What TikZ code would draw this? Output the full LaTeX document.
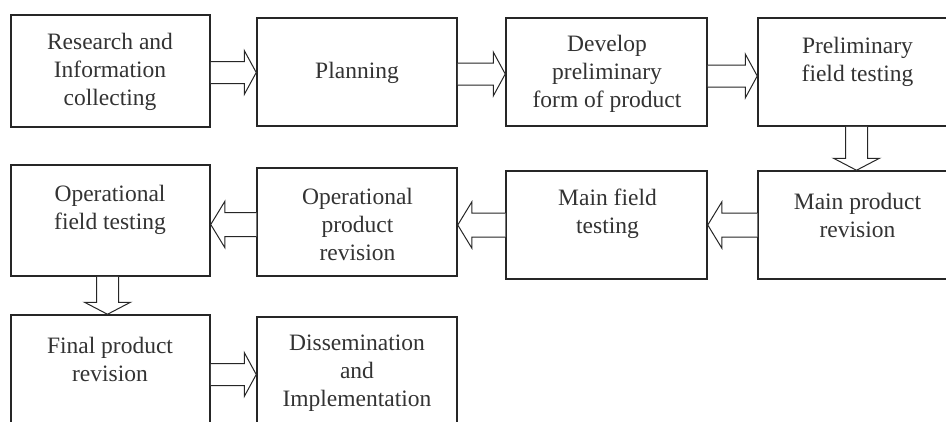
\documentclass[tikz,border=0pt]{standalone}
\usepackage{fontspec}
\setmainfont{Liberation Serif}
\usetikzlibrary{calc}
\tikzset{
  boxnode/.style={draw=black!85, line width=1.5pt, inner sep=0pt, fill=white},
  txt/.style={align=center, inner sep=0pt, font=\fontsize{23.5}{28}\selectfont, text=black!80},
  barrow/.style={draw=black!85, line width=1pt, fill=white, line join=miter},
}
% right-pointing block arrow from #1 to #2, vertical offset #3 (down positive, px)
\newcommand{\arrR}[3]{\draw[barrow] let \p1=(#1.east), \p2=(#2.west) in
  (\x1,\y1-#3pt+11pt) -- (\x2-12pt,\y1-#3pt+11pt) -- (\x2-12pt,\y1-#3pt+22pt) -- (\x2,\y1-#3pt)
  -- (\x2-12pt,\y1-#3pt-22pt) -- (\x2-12pt,\y1-#3pt-11pt) -- (\x1,\y1-#3pt-11pt);}
\newcommand{\arrL}[3]{\draw[barrow] let \p1=(#1.west), \p2=(#2.east) in
  (\x1,\y1-#3pt+12pt) -- (\x2+14pt,\y1-#3pt+12pt) -- (\x2+14pt,\y1-#3pt+23pt) -- (\x2,\y1-#3pt)
  -- (\x2+14pt,\y1-#3pt-23pt) -- (\x2+14pt,\y1-#3pt-12pt) -- (\x1,\y1-#3pt-12pt);}
\newcommand{\arrD}[3]{\draw[barrow] let \p1=(#1.south), \p2=(#2.north) in
  (\x1+#3pt-11pt,\y1) -- (\x1+#3pt-11pt,\y2+12pt) -- (\x1+#3pt-23pt,\y2+12pt) -- (\x1+#3pt,\y2)
  -- (\x1+#3pt+23pt,\y2+12pt) -- (\x1+#3pt+11pt,\y2+12pt) -- (\x1+#3pt+11pt,\y1);}
\begin{document}
\begin{tikzpicture}[x=1pt,y=-1pt]
\useasboundingbox (0,0) rectangle (946,421);
\clip (0,0) rectangle (946,421);
% boxes
\node[boxnode, minimum width=199pt, minimum height=112pt] (b1) at (110.5,71) {};
\node[boxnode, minimum width=200pt, minimum height=108pt] (b2) at (357,72) {};
\node[boxnode, minimum width=201pt, minimum height=108pt] (b3) at (606.5,72) {};
\node[boxnode, minimum width=199pt, minimum height=108pt] (b4) at (857.5,72) {};
\node[boxnode, minimum width=199pt, minimum height=111pt] (b5) at (110.5,220.5) {};
\node[boxnode, minimum width=200pt, minimum height=108pt] (b6) at (357,222) {};
\node[boxnode, minimum width=201pt, minimum height=108pt] (b7) at (606.5,225) {};
\node[boxnode, minimum width=199pt, minimum height=108pt] (b8) at (857.5,225) {};
\node[boxnode, minimum width=199pt, minimum height=112pt] (b9) at (110.5,371) {};
\node[boxnode, minimum width=200pt, minimum height=112pt] (b10) at (357,373) {};
% texts
\node[txt] (t1) at (110,72) {Research and\\Information\\collecting};
\node[txt] (t2) at (357,73) {Planning};
\node[txt] (t3) at (607,74) {Develop\\preliminary\\form of product};
\node[txt] (t4) at (857.5,62) {Preliminary\\field testing};
\node[txt] (t5) at (110,210) {Operational\\field testing};
\node[txt] (t6) at (357.5,224) {Operational\\product\\revision};
\node[txt] (t7) at (607.5,214) {Main field\\testing};
\node[txt] (t8) at (857.5,215) {Main product\\revision};
\node[txt] (t9) at (110,359) {Final product\\revision};
\node[txt] (t10) at (357,373) {Dissemination\\and\\Implementation};
% arrows
\arrR{b1}{b2}{1.5}
\arrR{b2}{b3}{2}
\arrR{b3}{b4}{4}
\arrD{b4}{b8}{-1}
\arrL{b8}{b7}{0}
\arrL{b7}{b6}{0}
\arrL{b6}{b5}{2.5}
\arrD{b5}{b9}{-3}
\arrR{b9}{b10}{3.5}
\end{tikzpicture}
\end{document}
